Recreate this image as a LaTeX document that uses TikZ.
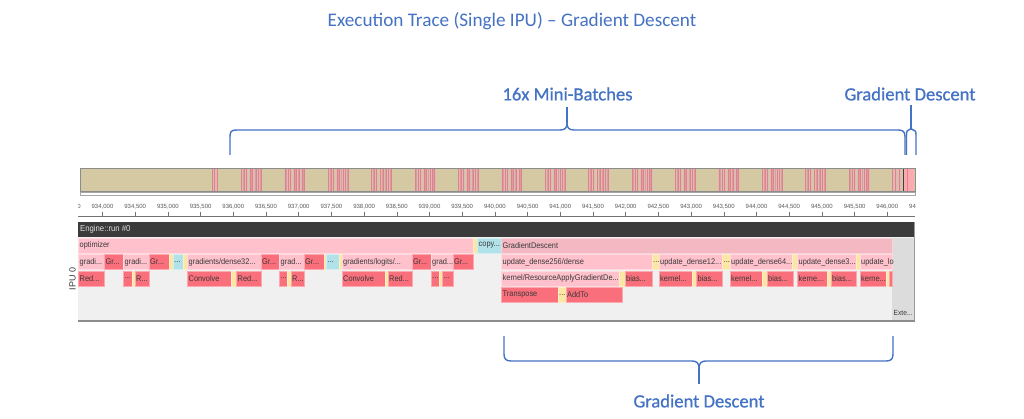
\documentclass[tikz,border=0pt]{standalone}
\usepackage{fontspec}
\usepackage{graphicx}
\setmainfont{Carlito}
\newfontfamily\annfont[FakeBold=0.8]{Carlito}
\newfontfamily\trf{Liberation Sans}
\definecolor{annblue}{HTML}{4472C4}
\definecolor{cTan}{HTML}{D4C9A3}
\definecolor{cStripeBg}{HTML}{DEBBB0}
\definecolor{cStripe}{HTML}{E0818E}
\definecolor{cStripe2}{HTML}{DA9CA0}
\definecolor{cLP}{HTML}{FFC1CC}
\definecolor{cGD}{HTML}{F3B8C2}
\definecolor{cRD}{HTML}{FA6F7C}
\definecolor{cYL}{HTML}{FCE6A4}
\definecolor{cCY}{HTML}{B2E2E9}
\definecolor{cPanel}{HTML}{F0F0F0}
\definecolor{cExt}{HTML}{DCDCDC}
\definecolor{cDark}{HTML}{3B3B3B}
\definecolor{cTxt}{HTML}{3A3A3A}
\tikzset{
  ann/.style={text=annblue, font=\annfont\fontsize{18.6}{20}\selectfont, inner sep=0},
  brace/.style={draw=annblue, line width=1.4pt, line join=round},
  bx/.style={minimum height=15pt, inner sep=0, anchor=west, line width=0.5pt},
  lp/.style={bx, fill=cLP, draw=cLP!60!white},
  gd/.style={bx, fill=cGD, draw=cGD!60!white},
  rd/.style={bx, fill=cRD, draw=cRD!60!white},
  yl/.style={bx, fill=cYL, draw=cYL!60!white},
  cy/.style={bx, fill=cCY, draw=cCY!60!white},
  lbl/.style={font=\trf\fontsize{8.2}{9}\selectfont, text=cTxt, inner sep=0, anchor=west},
  ticklbl/.style={font=\trf\fontsize{6}{7}\selectfont, text=black!65, inner sep=0},
}
\newcommand\sq[1]{\scalebox{0.9}[1]{#1}}
\newcount\tbn
\newcommand\tb[5]{%
  \global\advance\tbn by 1
  \pgfmathsetmacro\tbw{#2-#1}%
  \pgfmathsetmacro\tby{245.5+16.5*(#3-1)}%
  \node[#4, minimum width=\tbw pt] (b\the\tbn) at (#1,\tby) {};%
  \def\tbtxt{#5}%
  \ifx\tbtxt\empty\else
    \node[lbl] (t\the\tbn) at ({#1+1.5},\tby) {\sq{#5}};%
  \fi}
\begin{document}
\begin{tikzpicture}[x=1pt,y=-1pt]
\useasboundingbox (0,0) rectangle (1024,419);
\fill[white] (0,0) rectangle (1024,419);

% title and annotations
\node[ann, font=\fontsize{19.2}{21}\selectfont] (title) at (512,21) {Execution Trace (Single IPU) – Gradient Descent};
\node[ann] (mini) at (567.5,94) {16x Mini-Batches};
\node[ann] (gdtop) at (910,94) {Gradient Descent};
\node[ann] (gdbot) at (699,401) {Gradient Descent};

% overview bar
\fill[cTan] (80,168) rectangle (915,191);
\fill[cStripeBg] (212,168) rectangle (218,191);
\foreach \s in {212.5,214.2,217.2} \draw[cStripe, line width=0.9pt] (\s,168) -- (\s,191);
\foreach \k in {0,...,14} {
  \pgfmathsetmacro\cx{241+43.4*\k}
  \fill[cStripeBg] (\cx,168) rectangle ({\cx+21},191);
  \fill[cTan] ({\cx+7.2},168) rectangle ({\cx+8.4},191);
  \foreach \o in {0.6,3.6,5.6,9.6,11.8,15.4,17.6,20.3}
    \draw[cStripe, line width=0.9pt] ({\cx+\o},168) -- ({\cx+\o},191);
  \foreach \o in {2.1,10.7,13.8,19.0}
    \draw[cStripe2, line width=0.6pt] ({\cx+\o},168) -- ({\cx+\o},191);
}
\fill[cStripeBg] (892,168) rectangle (902,191);
\foreach \o in {892.6,895.4,899.6} \draw[cStripe, line width=0.9pt] (\o,168) -- (\o,191);
\fill[cRD!60!white] (904,168) rectangle (914,191);
\draw[cStripe, line width=0.8pt] (907,168) -- (907,191);
\draw[black!75, line width=1pt] (903,168) -- (903,191);
\draw[black!45, line width=0.6pt] (80,168) rectangle (915,191);
\draw[black!35, fill=white, line width=0.5pt] (80,192.5) rectangle (915,195);

% axis
\begin{scope}
  \clip (78,198) rectangle (915,212);
  \foreach \k in {0,...,26} {
    \pgfmathtruncatemacro\th{933+floor((\k+1)/2)}
    \pgfmathtruncatemacro\rest{mod(\k,2)}
    \node[ticklbl] (tl\k) at ({102.5+32.7*(\k-1)},206.5) {\th,\ifnum\rest=0 500\else 000\fi};
  }
\end{scope}
\draw[black!55, line width=0.5pt] (78,216) -- (915,216);
\foreach \k in {1,...,25} \draw[black!55, line width=0.5pt] ({102.5+32.7*(\k-1)},212) -- ({102.5+32.7*(\k-1)},216);

% engine bar and panel
\fill[cPanel] (78,237) rectangle (915,320);
\fill[cExt] (892,238) rectangle (914,320);
\node[lbl, font=\trf\fontsize{7.4}{8}\selectfont] (ext) at (893.5,313) {\sq{Exte...}};
\fill[cDark] (78,222) rectangle (915,237);
\node[lbl, font=\trf\fontsize{8.6}{9}\selectfont, text=white!88!black] (engine) at (80,229.5) {\sq{Engine::run \#0}};
\draw[black!40, line width=0.6pt] (914,222) -- (914,321);
\draw[black!45, line width=1.4pt] (78,321) -- (915,321);
\node[font=\trf\fontsize{9}{10}\selectfont, text=cTxt, rotate=90, inner sep=0] (ipu) at (72.5,279) {IPU 0};

% row 1
\tb{78}{473}{1}{lp}{optimizer}
\tb{473}{477}{1}{yl}{}
\tb{477}{501}{1}{cy}{copy...}
\tb{501}{892}{1}{gd}{GradientDescent}
% row 2
\tb{78}{104}{2}{lp}{gradi...}
\tb{104}{123}{2}{rd}{Gr...}
\tb{123}{148.5}{2}{lp}{gradi...}
\tb{148.5}{168.5}{2}{rd}{Gr...}
\tb{168.5}{172.5}{2}{yl}{}
\tb{172.5}{183}{2}{cy}{...}
\tb{183}{187}{2}{yl}{}
\tb{187}{260.5}{2}{lp}{gradients/dense32...}
\tb{260.5}{279}{2}{rd}{Gr...}
\tb{279}{303.5}{2}{lp}{grad...}
\tb{303.5}{323.5}{2}{rd}{Gr...}
\tb{323.5}{326}{2}{yl}{}
\tb{326}{338.5}{2}{cy}{...}
\tb{338.5}{341.5}{2}{yl}{}
\tb{341.5}{411.5}{2}{lp}{gradients/logits/...}
\tb{411.5}{430.5}{2}{rd}{Gr...}
\tb{430.5}{452.5}{2}{lp}{grad...}
\tb{452.5}{472.5}{2}{rd}{Gr...}
\tb{501}{651.5}{2}{lp}{update\_dense256/dense}
\tb{651.5}{658.5}{2}{yl}{...}
\tb{658.5}{722}{2}{lp}{update\_dense12...}
\tb{722}{729.5}{2}{yl}{...}
\tb{729.5}{791.5}{2}{lp}{update\_dense64...}
\tb{791.5}{797}{2}{yl}{}
\tb{797}{855.5}{2}{lp}{update\_dense3...}
\tb{855.5}{859.5}{2}{yl}{}
\tb{859.5}{892}{2}{lp}{update\_lo}
% row 3
\tb{78}{104}{3}{rd}{Red...}
\tb{123}{131.5}{3}{rd}{...}
\tb{131.5}{134.5}{3}{yl}{}
\tb{134.5}{148.5}{3}{rd}{R...}
\tb{187}{230.5}{3}{rd}{Convolve}
\tb{230.5}{236}{3}{yl}{}
\tb{236}{260.5}{3}{rd}{Red...}
\tb{279}{287}{3}{rd}{...}
\tb{287}{290.5}{3}{yl}{}
\tb{290.5}{303.5}{3}{rd}{R...}
\tb{341.5}{384.5}{3}{rd}{Convolve}
\tb{384.5}{387.5}{3}{yl}{}
\tb{387.5}{411.5}{3}{rd}{Red...}
\tb{430.5}{439}{3}{rd}{...}
\tb{439}{442}{3}{yl}{}
\tb{442}{452.5}{3}{rd}{...}
\tb{501}{618.5}{3}{lp}{kernel/ResourceApplyGradientDe...}
\tb{618.5}{624.5}{3}{yl}{}
\tb{624.5}{651.5}{3}{rd}{bias...}
\tb{658.5}{691.5}{3}{rd}{kernel...}
\tb{691.5}{696}{3}{yl}{}
\tb{696}{722}{3}{rd}{bias...}
\tb{729.5}{761.5}{3}{rd}{kernel...}
\tb{761.5}{766.5}{3}{yl}{}
\tb{766.5}{793}{3}{rd}{bias...}
\tb{797}{826.5}{3}{rd}{kerne...}
\tb{826.5}{830.5}{3}{yl}{}
\tb{830.5}{855.5}{3}{rd}{bias...}
\tb{859.5}{886}{3}{rd}{kerne...}
\tb{886}{889}{3}{yl}{}
\tb{889}{892}{3}{rd}{}
% row 4
\tb{501}{557.5}{4}{rd}{Transpose}
\tb{557.5}{565.5}{4}{yl}{...}
\tb{565.5}{621.5}{4}{rd}{AddTo}

% braces
\draw[brace] (230,155) -- (230,137) .. controls (230,131.5) and (231,130) .. (237,130) -- (560,130)
  .. controls (565,130) and (567,128) .. (567,123) .. controls (567,128) and (569,130) .. (574,130)
  -- (898,130) .. controls (903,130) and (905,131.5) .. (905,137) -- (905,155);
\draw[brace] (567,123) -- (567,107);
\draw[brace] (906.5,155) -- (906.5,135) .. controls (906.5,131) and (907.5,130) .. (908.8,130)
  .. controls (910.3,130) and (911,129) .. (911,126) .. controls (911,129) and (911.7,130) .. (913.2,130)
  .. controls (914.8,130) and (916,131) .. (916,135) -- (916,155);
\draw[brace] (911,126) -- (911,105);
\draw[brace] (504,336) -- (504,354) .. controls (504,359) and (506,361) .. (511,361) -- (692,361)
  .. controls (696.5,361) and (699,363) .. (699,368) .. controls (699,363) and (701.5,361) .. (706,361)
  -- (886,361) .. controls (891,361) and (893,359) .. (893,354) -- (893,336);
\draw[brace] (699,368) -- (699,384);
\end{tikzpicture}
\end{document}
